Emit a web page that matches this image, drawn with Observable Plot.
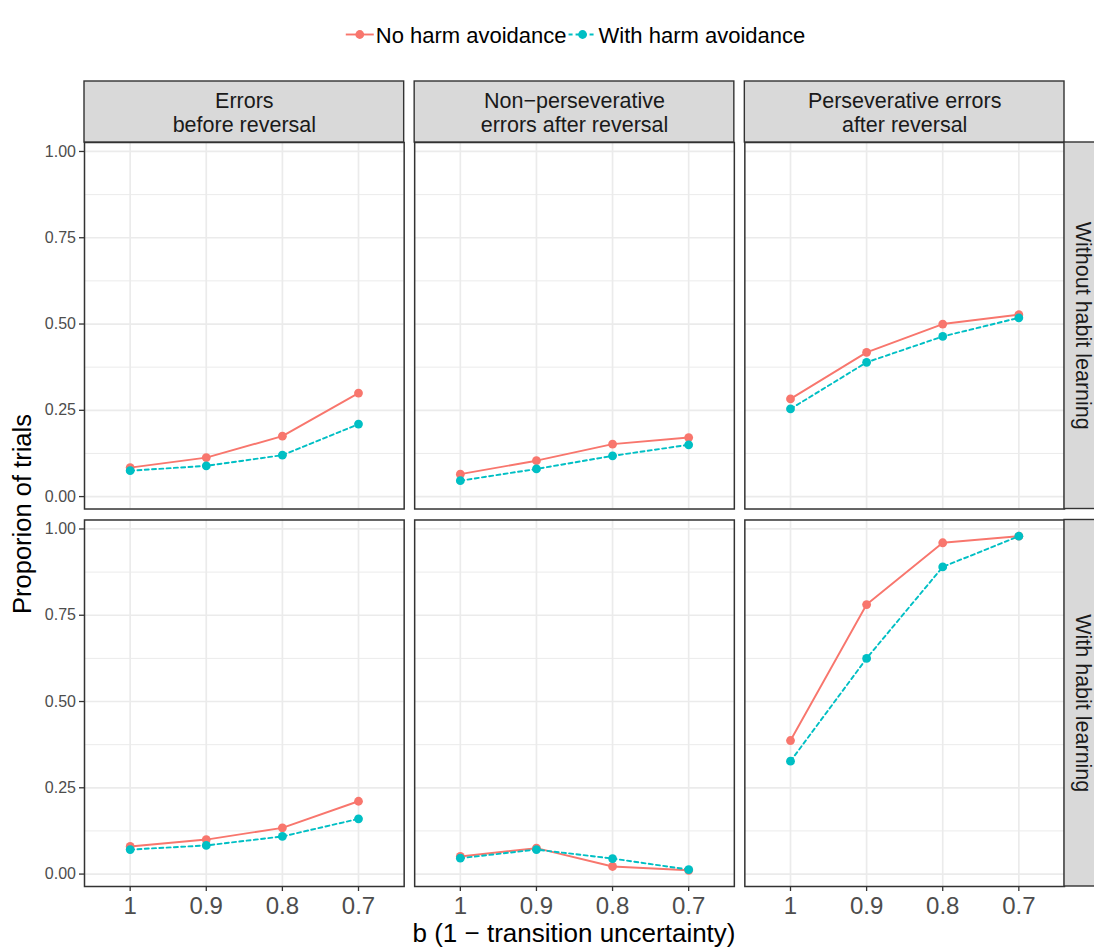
<!DOCTYPE html>
<html><head><meta charset="utf-8">
<script src="https://cdn.jsdelivr.net/npm/d3@7"></script>
<script src="https://cdn.jsdelivr.net/npm/@observablehq/plot@0.6"></script>
<style>
html,body{margin:0;padding:0;background:#fff;}
body{width:1094px;height:947px;overflow:hidden;font-family:"Liberation Sans",Arial,sans-serif;}
#legend{display:block;}
#chart svg{display:block;}
</style></head><body>
<svg id="legend" width="1094" height="70"></svg>
<div id="chart"></div>
<script>
// ---- categories / labels ----
const bValues = ["1", "0.9", "0.8", "0.7"];
const panelCols = ["Errors\nbefore reversal", "Non\u2212perseverative\nerrors after reversal", "Perseverative errors\nafter reversal"];
const panelRows = ["Without habit learning", "With habit learning"];
const seriesNames = ["No harm avoidance", "With harm avoidance"];
const seriesColors = ["#F8766D", "#00BFC4"];
const yTicks = [0, 0.25, 0.5, 0.75, 1];
const yMinorTicks = [0.125, 0.375, 0.625, 0.875];
const xTitle = "b (1 \u2212 transition uncertainty)";
const yTitle = "Proporion of trials";

// ---- values: Without habit learning ----
const errBefore_noHA_noHabit = [0.084, 0.113, 0.175, 0.300];
const errBefore_HA_noHabit   = [0.075, 0.089, 0.120, 0.210];
const nonPers_noHA_noHabit   = [0.065, 0.104, 0.152, 0.171];
const nonPers_HA_noHabit     = [0.046, 0.080, 0.118, 0.150];
const pers_noHA_noHabit      = [0.283, 0.418, 0.500, 0.527];
const pers_HA_noHabit        = [0.254, 0.389, 0.464, 0.518];
// ---- values: With habit learning ----
const errBefore_noHA_habit = [0.080, 0.100, 0.134, 0.211];
const errBefore_HA_habit   = [0.071, 0.083, 0.109, 0.160];
const nonPers_noHA_habit   = [0.051, 0.075, 0.022, 0.011];
const nonPers_HA_habit     = [0.046, 0.071, 0.045, 0.013];
const pers_noHA_habit      = [0.387, 0.781, 0.960, 0.979];
const pers_HA_habit        = [0.327, 0.625, 0.890, 0.979];

const valuesByPanel = [
  [[errBefore_noHA_noHabit, errBefore_HA_noHabit], [nonPers_noHA_noHabit, nonPers_HA_noHabit], [pers_noHA_noHabit, pers_HA_noHabit]],
  [[errBefore_noHA_habit, errBefore_HA_habit], [nonPers_noHA_habit, nonPers_HA_habit], [pers_noHA_habit, pers_HA_habit]]
];
const data = [];
panelRows.forEach((row, ri) => panelCols.forEach((col, ci) => seriesNames.forEach((s, si) =>
  valuesByPanel[ri][ci][si].forEach((v, bi) => data.push({row, col, series: s, b: bValues[bi], v})))));
const dataNo = data.filter(d => d.series === seriesNames[0]);
const dataWith = data.filter(d => d.series === seriesNames[1]);

// ---- layout ----
const W = 1094, H = 877, mL = 84, mR = 30, mT = 72, mB = 61;
const fxPad = 0.0318, fyPad = 0.0291;
const yDomain = [-0.036, 1.026];
const FONT = '"Liberation Sans", Arial, Helvetica, sans-serif';
const stripStyle = {fill: "#D9D9D9", stroke: "#333333", strokeWidth: 1.4};
const DASH = "4,3.3";

function build(facetW) {
  return Plot.plot({
    width: W, height: H,
    marginLeft: mL, marginRight: mR, marginTop: mT, marginBottom: mB,
    style: {fontFamily: FONT, background: "#fff", overflow: "visible", color: "#1A1A1A"},
    x: {type: "point", domain: bValues, padding: 0.6, round: false},
    y: {domain: yDomain},
    fx: {domain: panelCols, axis: null, paddingInner: fxPad, paddingOuter: 0, round: false},
    fy: {domain: panelRows, axis: null, paddingInner: fyPad, paddingOuter: 0, round: false},
    marks: [
      Plot.gridY(yMinorTicks, {stroke: "#EBEBEB", strokeOpacity: 1, strokeWidth: 1.0}),
      Plot.gridY(yTicks, {stroke: "#EBEBEB", strokeOpacity: 1, strokeWidth: 1.7}),
      Plot.gridX(bValues, {stroke: "#EBEBEB", strokeOpacity: 1, strokeWidth: 1.7}),
      Plot.line(dataNo, {x: "b", y: "v", fx: "col", fy: "row", stroke: seriesColors[0], strokeWidth: 1.9}),
      Plot.line(dataWith, {x: "b", y: "v", fx: "col", fy: "row", stroke: seriesColors[1], strokeWidth: 1.9, strokeDasharray: DASH}),
      Plot.dot(dataNo, {x: "b", y: "v", fx: "col", fy: "row", fill: seriesColors[0], r: 4.4}),
      Plot.dot(dataWith, {x: "b", y: "v", fx: "col", fy: "row", fill: seriesColors[1], r: 4.4}),
      Plot.frame({stroke: "#333333", strokeWidth: 1.5}),
      // top strips
      Plot.barY(panelCols, {fx: d => d, fy: () => panelRows[0], y1: () => yDomain[1], y2: () => yDomain[1], insetTop: -61, ...stripStyle}),
      Plot.text(panelCols, {fx: d => d, fy: () => panelRows[0], text: d => d, frameAnchor: "top", dy: -30.5,
        lineAnchor: "middle", lineHeight: 1.14, fontSize: 21.5, fill: "#1A1A1A"}),
      // right strips
      Plot.barY(panelRows, {fy: d => d, fx: () => panelCols[2], y1: () => yDomain[0], y2: () => yDomain[1],
        insetLeft: facetW, insetRight: -34, ...stripStyle}),
      Plot.text(panelRows, {fy: d => d, fx: () => panelCols[2], text: d => d, frameAnchor: "right", dx: 18,
        textAnchor: "middle", lineAnchor: "middle", rotate: 90, fontSize: 21.5, fill: "#1A1A1A"}),
      Plot.axisY(yTicks, {tickFormat: d3.format(".2f"), tickSize: 5, tickPadding: 3.5, fontSize: 16,
        fill: "#4D4D4D", stroke: "#333333", strokeWidth: 1.3, label: null}),
      Plot.axisX(bValues, {tickSize: 5, tickPadding: 5.5, fontSize: 24,
        fill: "#4D4D4D", stroke: "#333333", strokeWidth: 1.3, label: null})
    ]
  });
}

let guessW = (W - mL - mR) * (1 - fxPad) / (3 - fxPad);
let chart = build(guessW);
try {
  const bw = chart.scale("fx").bandwidth;
  if (bw && Math.abs(bw - guessW) > 0.01) chart = build(bw);
} catch (e) {}
document.getElementById("chart").appendChild(chart);

// axis titles
const svg = d3.select(chart);
const cx = (mL + (W - mR)) / 2;
svg.append("text").attr("x", cx).attr("y", 871.6).attr("text-anchor", "middle")
  .attr("font-family", FONT).attr("font-size", 26).attr("fill", "#000").text(xTitle);
svg.append("text").attr("transform", `translate(31,${(mT + (H - mB)) / 2}) rotate(-90)`).attr("text-anchor", "middle")
  .attr("font-family", FONT).attr("font-size", 25.5).attr("fill", "#000").text(yTitle);

// legend
const lg = d3.select("#legend").append("g");
let xpos = 0;
const ly = 34.5;
seriesNames.forEach((name, i) => {
  const g = lg.append("g").attr("transform", `translate(${xpos},0)`);
  g.append("line").attr("x1", 0).attr("x2", 28).attr("y1", ly).attr("y2", ly)
    .attr("stroke", seriesColors[i]).attr("stroke-width", 1.9)
    .attr("stroke-dasharray", i === 1 ? "4,3" : null);
  g.append("circle").attr("cx", 14).attr("cy", ly).attr("r", 4.4).attr("fill", seriesColors[i]);
  const t = g.append("text").attr("x", 30).attr("y", 42.7).attr("font-family", FONT)
    .attr("font-size", 22).attr("fill", "#000").text(name);
  const tw = t.node().getComputedTextLength();
  xpos += 30 + tw + 2;
});
const totalW = xpos - 2;
lg.attr("transform", `translate(${575.5 - totalW / 2},0)`);
</script>
</body></html>
